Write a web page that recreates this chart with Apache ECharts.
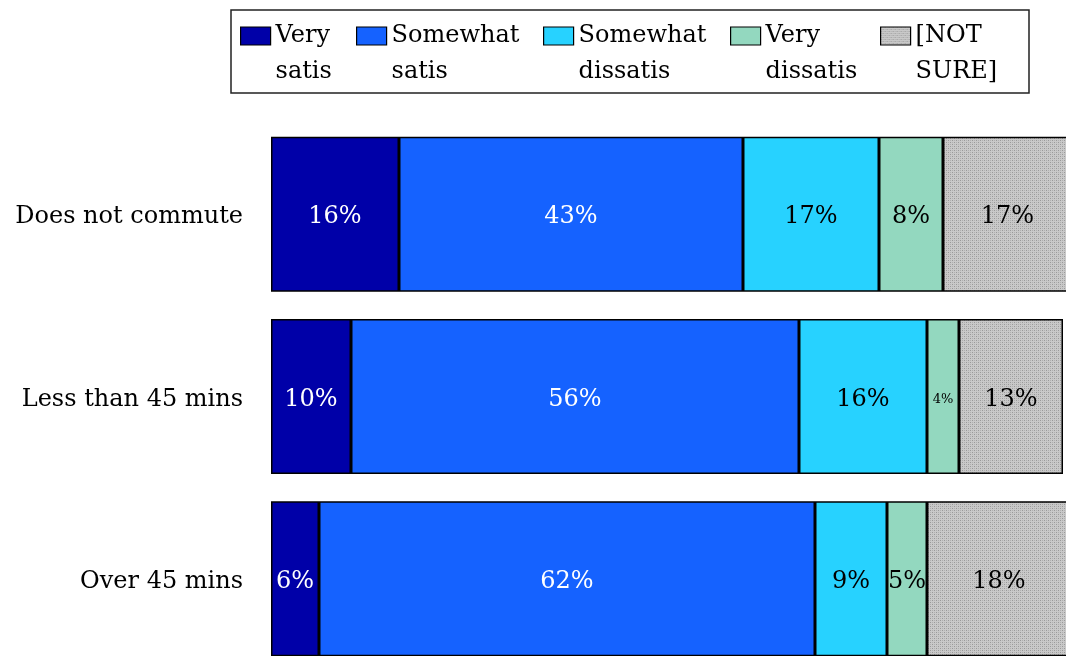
<!DOCTYPE html>
<html>
<head>
<meta charset="utf-8">
<script src="https://cdn.jsdelivr.net/npm/echarts@6/dist/echarts.min.js"></script>
<style>
  html, body { margin: 0; padding: 0; background: #ffffff; }
  #chart { width: 1066px; height: 656px; }
</style>
</head>
<body>
<div id="chart"></div>
<script>
// Commute groups and satisfaction shares (%)
const categories = ['Does not commute', 'Less than 45 mins', 'Over 45 mins'];
const seriesNames = ['Very satis', 'Somewhat satis', 'Somewhat dissatis', 'Very dissatis', '[NOT SURE]'];
const verySatis = [16, 10, 6];
const somewhatSatis = [43, 56, 62];
const somewhatDissatis = [17, 16, 9];
const veryDissatis = [8, 4, 5];
const notSure = [17, 13, 18];

const FONT = 'DejaVu Serif';

// fine grey dot pattern for the "not sure" segments
function dotPattern() {
  const c = document.createElement('canvas');
  c.width = 4; c.height = 4;
  const ctx = c.getContext('2d');
  ctx.fillStyle = '#c9c9c9';
  ctx.fillRect(0, 0, 4, 4);
  ctx.fillStyle = '#999999';
  ctx.fillRect(0, 0, 1, 1);
  ctx.fillRect(2, 2, 1, 1);
  ctx.fillStyle = '#b0b0b0';
  ctx.fillRect(2, 0, 1, 1);
  ctx.fillRect(0, 2, 1, 1);
  return c;
}

const colors = ['#0000a8', '#1562ff', '#27d2ff', '#93d8bf', { image: dotPattern(), repeat: 'repeat' }];
const labelColors = ['#ffffff', '#ffffff', '#000000', '#000000', '#000000'];
const values = [verySatis, somewhatSatis, somewhatDissatis, veryDissatis, notSure];

const series = seriesNames.map((name, i) => ({
  name: name,
  type: 'bar',
  stack: 'total',
  barWidth: 155,
  itemStyle: { color: colors[i], borderColor: '#000000', borderWidth: 1.5 },
  label: {
    show: true,
    position: 'inside',
    offset: [0, 3],
    formatter: '{c}%',
    color: labelColors[i],
    fontFamily: FONT,
    fontSize: 24
  },
  // very narrow segments get a smaller label
  data: values[i].map(v => v < 5 ? { value: v, label: { fontSize: 13 } } : v)
}));

// one legend block per item; the name wraps onto two lines under the first,
// which sits level with the swatch (leading blank line balances the centring)
const legendLefts = [240, 356, 543, 730, 880];
const legends = seriesNames.map((name, i) => ({
  data: [{ name: name, icon: 'rect' }],
  left: legendLefts[i],
  top: -18,
  padding: 0,
  itemWidth: 30,
  itemHeight: 18,
  selectedMode: false,
  itemStyle: { borderColor: '#000000', borderWidth: 1.2 },
  formatter: n => '\n' + n.replace(' ', '\n'),
  textStyle: {
    fontFamily: FONT,
    fontSize: 24,
    lineHeight: 36,
    color: '#000000'
  }
}));

const chart = echarts.init(document.getElementById('chart'), null, { renderer: 'canvas' });
chart.setOption({
  animation: false,
  backgroundColor: '#ffffff',
  legend: legends,
  graphic: [{
    type: 'rect',
    shape: { x: 231, y: 10, width: 798, height: 83 },
    style: { fill: 'none', stroke: '#222222', lineWidth: 1.5 },
    z: 100
  }],
  // plot area runs past the right and bottom edges of the page
  grid: { left: 271, top: 123, width: 800, height: 547, outerBoundsMode: 'none' },
  xAxis: {
    type: 'value',
    min: 0,
    max: 100,
    show: false
  },
  yAxis: {
    type: 'category',
    inverse: true,
    data: categories,
    axisLine: { show: false },
    axisTick: { show: false },
    axisLabel: {
      margin: 28,
      formatter: v => '{c|' + v + '}',
      rich: {
        c: {
          padding: [6, 0, 0, 0],
          color: '#000000',
          fontFamily: FONT,
          fontSize: 24
        }
      }
    }
  },
  series: series
});
</script>
</body>
</html>
